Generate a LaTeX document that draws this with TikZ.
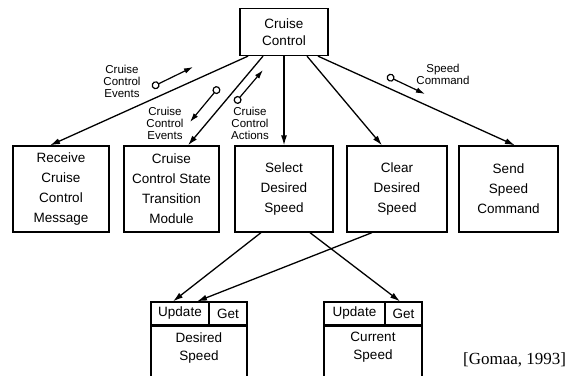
\documentclass[tikz,border=0pt]{standalone}
\usepackage{fontspec}
\setmainfont{Liberation Sans}
\newfontfamily\citefont{Liberation Serif}
\usetikzlibrary{arrows.meta,calc}
\begin{document}
\begin{tikzpicture}[x=1pt,y=-1pt,
  box/.style={draw,line width=1.3pt,inner sep=0pt,align=center,
    font=\fontsize{13.5}{20}\selectfont},
  cell/.style={draw,line width=1.2pt,inner sep=0pt,align=center,
    font=\fontsize{13.5}{18}\selectfont},
  flow/.style={line width=1.3pt,-{Latex[length=10pt,width=6pt]}},
  msg/.style={line width=1.2pt,
    {Circle[open,length=8pt,width=8pt,line width=1.2pt]}-{Latex[length=9pt,width=5.5pt]}},
  lbl/.style={align=center,inner sep=0pt,font=\fontsize{11.5}{12}\selectfont}]
\useasboundingbox (0,0) rectangle (572,375);
\clip (0,0) rectangle (572,375);

% controlling object
\node[box,minimum width=88,minimum height=47,font=\fontsize{13.5}{17}\selectfont]
  (cc) at (284,32) {Cruise\\Control};

% modules
\node[box,minimum width=96,minimum height=86] (recv) at (61,189)
  {Receive\\Cruise\\Control\\Message};
\node[box,minimum width=95,minimum height=86] (trans) at (171.5,189)
  {Cruise\\Control State\\Transition\\Module};
\node[box,minimum width=98,minimum height=86] (sel) at (284,189)
  {Select\\Desired\\Speed};
\node[box,minimum width=100,minimum height=86] (clr) at (397,189)
  {Clear\\Desired\\Speed};
\node[box,minimum width=99,minimum height=86] (send) at (508.5,189)
  {Send\\Speed\\Command};

% data abstraction objects
\node[cell,minimum width=58,minimum height=23] (dupd) at (180,313.5) {Update};
\node[cell,minimum width=38,minimum height=23] (dget) at (228,313.5) {Get};
\node[cell,minimum width=96,minimum height=70,anchor=north] (dbody)
  at (dupd.south west -| 199,0) {};
\node[cell,draw=none] (dname) at ([yshift=-22]dbody.north) {Desired\\Speed};

\node[cell,minimum width=61,minimum height=23] (cupd) at (354.5,313.5) {Update};
\node[cell,minimum width=37,minimum height=23] (cget) at (403.5,313.5) {Get};
\node[cell,minimum width=98,minimum height=70,anchor=north] (cbody)
  at (cupd.south west -| 373,0) {};
\node[cell,draw=none] (cname) at ([yshift=-22]cbody.north) {Current\\Speed};

% invocations
\draw[flow] ([xshift=-36]cc.south) -- ([xshift=-11]recv.north);
\draw[flow] ([xshift=-21]cc.south) -- ([xshift=16.5]trans.north);
\draw[flow] (cc.south) -- (sel.north);
\draw[flow] ([xshift=23]cc.south) -- ([xshift=-15]clr.north);
\draw[flow] ([xshift=34]cc.south) -- ([xshift=6.5]send.north);

\draw[flow] ([xshift=-23]sel.south) -- ([xshift=-7]dupd.north);
\draw[flow] ([xshift=26]sel.south) -- ([xshift=-3.5]cget.north);
\draw[flow] ([xshift=-25]clr.south) -- ([xshift=17]dupd.north);

% messages
\coordinate (m1a) at (152,87);   \coordinate (m1b) at (193,67);
\coordinate (m2a) at (219,87);   \coordinate (m2b) at (190,122);
\coordinate (m3a) at (235,103);  \coordinate (m3b) at (263,70);
\coordinate (m4a) at (387,76);   \coordinate (m4b) at (425,94);
\draw[msg] (m1a) -- (m1b);
\draw[msg] (m2a) -- (m2b);
\draw[msg] (m3a) -- (m3b);
\draw[msg] (m4a) -- (m4b);

\node[lbl] (l1) at (122,81) {Cruise\\Control\\Events};
\node[lbl] (l2) at (165,123) {Cruise\\Control\\Events};
\node[lbl] (l3) at (250,123) {Cruise\\Control\\Actions};
\node[lbl] (l4) at (443,74) {Speed\\Command};

% reference
\node[anchor=base west,inner sep=0pt,font=\citefont\fontsize{17}{19}\selectfont]
  (cite) at (463,364) {[Gomaa, 1993]};
\end{tikzpicture}
\end{document}
